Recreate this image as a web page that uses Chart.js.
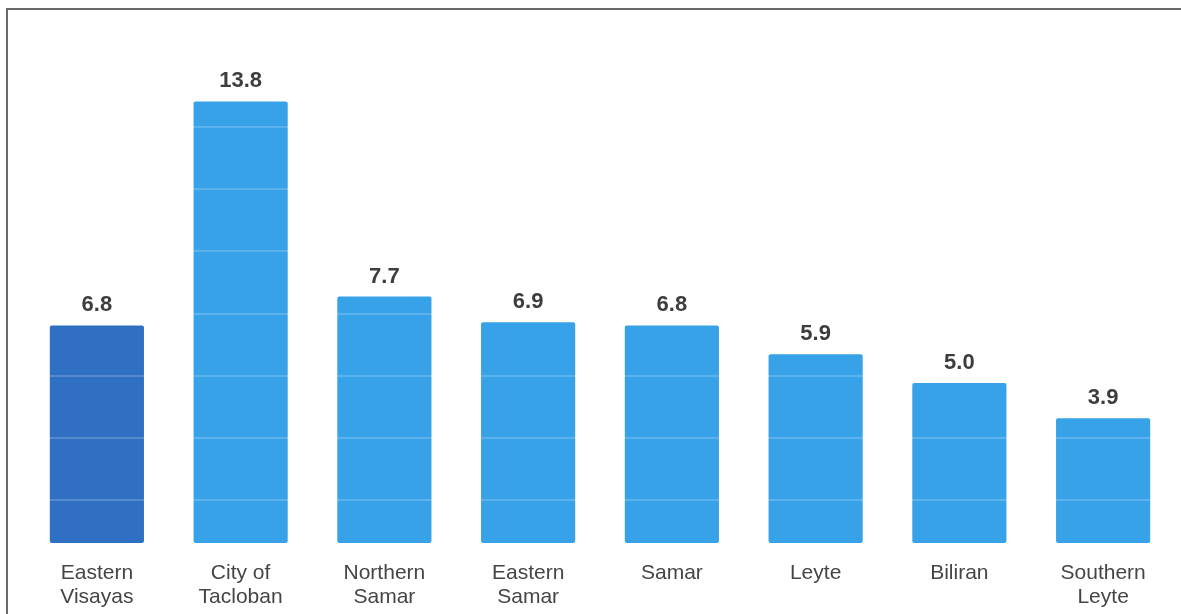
<!DOCTYPE html>
<html>
<head>
<meta charset="utf-8">
<script src="https://cdn.jsdelivr.net/npm/chart.js@4.4.1/dist/chart.umd.min.js"></script>
<style>
  html, body { margin: 0; padding: 0; background: #ffffff; }
  #wrap { position: relative; width: 1181px; height: 614px; overflow: hidden; }
  #frame { position: absolute; left: 6px; top: 8px; width: 1200px; height: 700px;
           border-top: 2px solid #6a6a6a; border-left: 2px solid #6a6a6a; box-sizing: border-box; pointer-events: none; }
  canvas { position: absolute; left: 0; top: 0; }
</style>
</head>
<body>
<div id="wrap">
  <canvas id="c" width="1181" height="614"></canvas>
  <div id="frame"></div>
</div>
<script>
const categories = [
  ["Eastern", "Visayas"],
  ["City of", "Tacloban"],
  ["Northern", "Samar"],
  ["Eastern", "Samar"],
  "Samar",
  "Leyte",
  "Biliran",
  ["Southern", "Leyte"]
];
const values = [6.8, 13.8, 7.7, 6.9, 6.8, 5.9, 5.0, 3.9];
const barColors = ["#2f70c3", "#37a2e8", "#37a2e8", "#37a2e8", "#37a2e8", "#37a2e8", "#37a2e8", "#37a2e8"];
const gridValues = [1.35, 3.29, 5.23, 7.17, 9.11, 11.05, 12.99];
const yMax = 15;

const valueLabels = {
  id: 'valueLabels',
  afterDatasetsDraw(chart) {
    const ctx = chart.ctx;
    const area = chart.chartArea;
    const y = chart.scales.y;
    ctx.save();
    // faint grid lines visible over the bars
    ctx.strokeStyle = 'rgba(255,255,255,0.18)';
    ctx.lineWidth = 2;
    gridValues.forEach(v => {
      const py = Math.round(y.getPixelForValue(v));
      ctx.beginPath();
      ctx.moveTo(area.left, py);
      ctx.lineTo(area.right, py);
      ctx.stroke();
    });
    const meta = chart.getDatasetMeta(0);
    ctx.font = 'bold 22px "Liberation Sans", Arial, sans-serif';
    ctx.fillStyle = '#3d3d3d';
    ctx.textAlign = 'center';
    ctx.textBaseline = 'alphabetic';
    meta.data.forEach((bar, i) => {
      ctx.fillText(values[i].toFixed(1), bar.x, bar.y - 14);
    });
    ctx.restore();
  }
};

new Chart(document.getElementById('c'), {
  type: 'bar',
  data: {
    labels: categories,
    datasets: [{
      data: values,
      backgroundColor: barColors,
      borderRadius: 2,
      borderSkipped: false,
      categoryPercentage: 1.0,
      barPercentage: 0.655
    }]
  },
  options: {
    responsive: false,
    animation: false,
    devicePixelRatio: 1,
    layout: { padding: { left: 25, right: 6, top: 63, bottom: 5 } },
    plugins: { legend: { display: false }, tooltip: { enabled: false } },
    scales: {
      x: {
        grid: { display: false, drawTicks: false },
        border: { display: false },
        afterFit(scale) { scale.height = 66; },
        ticks: {
          padding: 18,
          color: '#454545',
          font: { family: '"Liberation Sans", Arial, sans-serif', size: 21, lineHeight: 1.14 },
          maxRotation: 0, autoSkip: false
        }
      },
      y: {
        display: false,
        min: 0,
        max: yMax
      }
    }
  },
  plugins: [valueLabels]
});
</script>
</body>
</html>
